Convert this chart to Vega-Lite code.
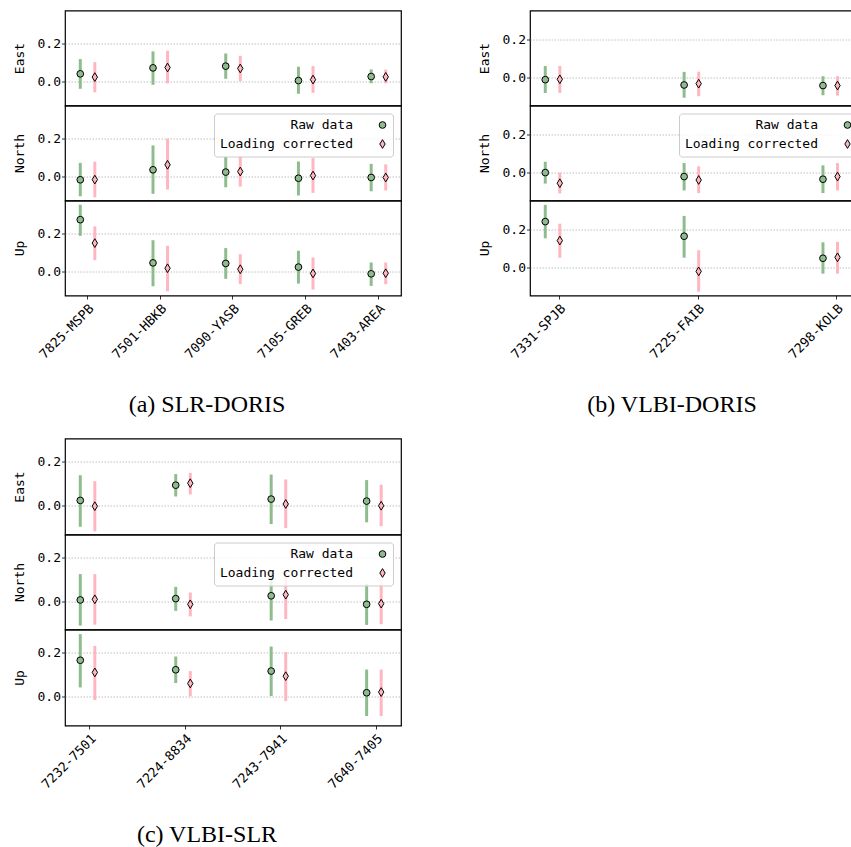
{
  "$schema": "https://vega.github.io/schema/vega-lite/v6.json",
  "padding": {"left": 12, "top": 9.5, "right": 5, "bottom": 5},
  "background": "white",
  "config": {
    "view": {"stroke": "black", "strokeWidth": 1.2},
    "axis": {"labelFont": "DejaVu Sans Mono", "labelFontSize": 13, "labelColor": "black", "titleFont": "DejaVu Sans Mono", "titleFontSize": 13, "titleFontWeight": "normal", "titleColor": "black", "domain": false, "tickColor": "black", "tickSize": 3.5, "tickWidth": 0.8, "labelPadding": 1, "gridColor": "#b0b0b0", "gridDash": [1.5, 1.5], "gridWidth": 0.8},
    "axisY": {"titlePadding": 11, "grid": true, "values": [0, 0.2], "format": ".1f"},
    "axisX": {"grid": false, "labelAngle": -45, "labelAlign": "right", "labelBaseline": "top", "labelPadding": 3, "title": null},
    "title": {"font": "Liberation Serif", "fontSize": 24, "fontWeight": "normal", "color": "black", "orient": "bottom", "anchor": "middle", "frame": "bounds", "offset": 31}
  },
  "datasets": {
    "a": [
      {"comp": "East", "station": "7825-MSPB", "series": "Raw data", "v": 0.040, "lo": -0.038, "hi": 0.117},
      {"comp": "East", "station": "7825-MSPB", "series": "Loading corrected", "v": 0.023, "lo": -0.056, "hi": 0.101},
      {"comp": "East", "station": "7501-HBKB", "series": "Raw data", "v": 0.071, "lo": -0.017, "hi": 0.157},
      {"comp": "East", "station": "7501-HBKB", "series": "Loading corrected", "v": 0.073, "lo": -0.010, "hi": 0.160},
      {"comp": "East", "station": "7090-YASB", "series": "Raw data", "v": 0.080, "lo": 0.014, "hi": 0.146},
      {"comp": "East", "station": "7090-YASB", "series": "Loading corrected", "v": 0.068, "lo": 0.002, "hi": 0.134},
      {"comp": "East", "station": "7105-GREB", "series": "Raw data", "v": 0.005, "lo": -0.064, "hi": 0.077},
      {"comp": "East", "station": "7105-GREB", "series": "Loading corrected", "v": 0.010, "lo": -0.059, "hi": 0.080},
      {"comp": "East", "station": "7403-AREA", "series": "Raw data", "v": 0.026, "lo": -0.009, "hi": 0.063},
      {"comp": "East", "station": "7403-AREA", "series": "Loading corrected", "v": 0.024, "lo": -0.009, "hi": 0.062},
      {"comp": "North", "station": "7825-MSPB", "series": "Raw data", "v": -0.017, "lo": -0.103, "hi": 0.071},
      {"comp": "North", "station": "7825-MSPB", "series": "Loading corrected", "v": -0.016, "lo": -0.108, "hi": 0.077},
      {"comp": "North", "station": "7501-HBKB", "series": "Raw data", "v": 0.035, "lo": -0.090, "hi": 0.162},
      {"comp": "North", "station": "7501-HBKB", "series": "Loading corrected", "v": 0.061, "lo": -0.068, "hi": 0.197},
      {"comp": "North", "station": "7090-YASB", "series": "Raw data", "v": 0.023, "lo": -0.056, "hi": 0.102},
      {"comp": "North", "station": "7090-YASB", "series": "Loading corrected", "v": 0.026, "lo": -0.052, "hi": 0.104},
      {"comp": "North", "station": "7105-GREB", "series": "Raw data", "v": -0.009, "lo": -0.099, "hi": 0.078},
      {"comp": "North", "station": "7105-GREB", "series": "Loading corrected", "v": 0.005, "lo": -0.085, "hi": 0.096},
      {"comp": "North", "station": "7403-AREA", "series": "Raw data", "v": -0.005, "lo": -0.077, "hi": 0.066},
      {"comp": "North", "station": "7403-AREA", "series": "Loading corrected", "v": -0.005, "lo": -0.073, "hi": 0.063},
      {"comp": "Up", "station": "7825-MSPB", "series": "Raw data", "v": 0.270, "lo": 0.186, "hi": 0.348},
      {"comp": "Up", "station": "7825-MSPB", "series": "Loading corrected", "v": 0.148, "lo": 0.059, "hi": 0.235},
      {"comp": "Up", "station": "7501-HBKB", "series": "Raw data", "v": 0.045, "lo": -0.077, "hi": 0.163},
      {"comp": "Up", "station": "7501-HBKB", "series": "Loading corrected", "v": 0.017, "lo": -0.103, "hi": 0.134},
      {"comp": "Up", "station": "7090-YASB", "series": "Raw data", "v": 0.042, "lo": -0.038, "hi": 0.122},
      {"comp": "Up", "station": "7090-YASB", "series": "Loading corrected", "v": 0.012, "lo": -0.066, "hi": 0.090},
      {"comp": "Up", "station": "7105-GREB", "series": "Raw data", "v": 0.023, "lo": -0.063, "hi": 0.108},
      {"comp": "Up", "station": "7105-GREB", "series": "Loading corrected", "v": -0.010, "lo": -0.094, "hi": 0.073},
      {"comp": "Up", "station": "7403-AREA", "series": "Raw data", "v": -0.012, "lo": -0.075, "hi": 0.047},
      {"comp": "Up", "station": "7403-AREA", "series": "Loading corrected", "v": -0.009, "lo": -0.066, "hi": 0.047}
    ],
    "b": [
      {"comp": "East", "station": "7331-SPJB", "series": "Raw data", "v": -0.009, "lo": -0.079, "hi": 0.063},
      {"comp": "East", "station": "7331-SPJB", "series": "Loading corrected", "v": -0.007, "lo": -0.079, "hi": 0.063},
      {"comp": "East", "station": "7225-FAIB", "series": "Raw data", "v": -0.037, "lo": -0.104, "hi": 0.032},
      {"comp": "East", "station": "7225-FAIB", "series": "Loading corrected", "v": -0.030, "lo": -0.096, "hi": 0.033},
      {"comp": "East", "station": "7298-KOLB", "series": "Raw data", "v": -0.040, "lo": -0.091, "hi": 0.009},
      {"comp": "East", "station": "7298-KOLB", "series": "Loading corrected", "v": -0.040, "lo": -0.093, "hi": 0.009},
      {"comp": "North", "station": "7331-SPJB", "series": "Raw data", "v": 0.002, "lo": -0.056, "hi": 0.059},
      {"comp": "North", "station": "7331-SPJB", "series": "Loading corrected", "v": -0.054, "lo": -0.108, "hi": 0.002},
      {"comp": "North", "station": "7225-FAIB", "series": "Raw data", "v": -0.019, "lo": -0.092, "hi": 0.052},
      {"comp": "North", "station": "7225-FAIB", "series": "Loading corrected", "v": -0.037, "lo": -0.106, "hi": 0.035},
      {"comp": "North", "station": "7298-KOLB", "series": "Raw data", "v": -0.033, "lo": -0.106, "hi": 0.040},
      {"comp": "North", "station": "7298-KOLB", "series": "Loading corrected", "v": -0.019, "lo": -0.092, "hi": 0.052},
      {"comp": "Up", "station": "7331-SPJB", "series": "Raw data", "v": 0.244, "lo": 0.156, "hi": 0.332},
      {"comp": "Up", "station": "7331-SPJB", "series": "Loading corrected", "v": 0.144, "lo": 0.054, "hi": 0.233},
      {"comp": "Up", "station": "7225-FAIB", "series": "Raw data", "v": 0.167, "lo": 0.054, "hi": 0.274},
      {"comp": "Up", "station": "7225-FAIB", "series": "Loading corrected", "v": -0.018, "lo": -0.125, "hi": 0.093},
      {"comp": "Up", "station": "7298-KOLB", "series": "Raw data", "v": 0.051, "lo": -0.030, "hi": 0.135},
      {"comp": "Up", "station": "7298-KOLB", "series": "Loading corrected", "v": 0.056, "lo": -0.030, "hi": 0.137}
    ],
    "c": [
      {"comp": "East", "station": "7232-7501", "series": "Raw data", "v": 0.024, "lo": -0.095, "hi": 0.138},
      {"comp": "East", "station": "7232-7501", "series": "Loading corrected", "v": -0.002, "lo": -0.116, "hi": 0.111},
      {"comp": "East", "station": "7224-8834", "series": "Raw data", "v": 0.093, "lo": 0.042, "hi": 0.143},
      {"comp": "East", "station": "7224-8834", "series": "Loading corrected", "v": 0.102, "lo": 0.051, "hi": 0.149},
      {"comp": "East", "station": "7243-7941", "series": "Raw data", "v": 0.030, "lo": -0.083, "hi": 0.141},
      {"comp": "East", "station": "7243-7941", "series": "Loading corrected", "v": 0.008, "lo": -0.101, "hi": 0.119},
      {"comp": "East", "station": "7640-7405", "series": "Raw data", "v": 0.021, "lo": -0.075, "hi": 0.116},
      {"comp": "East", "station": "7640-7405", "series": "Loading corrected", "v": 0.000, "lo": -0.092, "hi": 0.095},
      {"comp": "North", "station": "7232-7501", "series": "Raw data", "v": 0.005, "lo": -0.112, "hi": 0.123},
      {"comp": "North", "station": "7232-7501", "series": "Loading corrected", "v": 0.008, "lo": -0.108, "hi": 0.123},
      {"comp": "North", "station": "7224-8834", "series": "Raw data", "v": 0.011, "lo": -0.045, "hi": 0.065},
      {"comp": "North", "station": "7224-8834", "series": "Loading corrected", "v": -0.015, "lo": -0.070, "hi": 0.039},
      {"comp": "North", "station": "7243-7941", "series": "Raw data", "v": 0.024, "lo": -0.089, "hi": 0.137},
      {"comp": "North", "station": "7243-7941", "series": "Loading corrected", "v": 0.029, "lo": -0.082, "hi": 0.140},
      {"comp": "North", "station": "7640-7405", "series": "Raw data", "v": -0.015, "lo": -0.109, "hi": 0.079},
      {"comp": "North", "station": "7640-7405", "series": "Loading corrected", "v": -0.012, "lo": -0.106, "hi": 0.082},
      {"comp": "Up", "station": "7232-7501", "series": "Raw data", "v": 0.165, "lo": 0.042, "hi": 0.283},
      {"comp": "Up", "station": "7232-7501", "series": "Loading corrected", "v": 0.110, "lo": -0.015, "hi": 0.230},
      {"comp": "Up", "station": "7224-8834", "series": "Raw data", "v": 0.122, "lo": 0.062, "hi": 0.182},
      {"comp": "Up", "station": "7224-8834", "series": "Loading corrected", "v": 0.060, "lo": 0.002, "hi": 0.116},
      {"comp": "Up", "station": "7243-7941", "series": "Raw data", "v": 0.116, "lo": 0.003, "hi": 0.227},
      {"comp": "Up", "station": "7243-7941", "series": "Loading corrected", "v": 0.093, "lo": -0.020, "hi": 0.202},
      {"comp": "Up", "station": "7640-7405", "series": "Raw data", "v": 0.018, "lo": -0.087, "hi": 0.123},
      {"comp": "Up", "station": "7640-7405", "series": "Loading corrected", "v": 0.021, "lo": -0.087, "hi": 0.123}
    ]
  },
  "resolve": {"scale": {"color": "independent", "shape": "independent", "stroke": "independent"}, "legend": {"color": "independent", "shape": "independent", "stroke": "independent"}},
  "spacing": 20,
  "vconcat": [
    {
      "spacing": 75,
      "resolve": {"scale": {"color": "independent", "shape": "independent", "stroke": "independent"}, "legend": {"color": "independent", "shape": "independent", "stroke": "independent"}},
      "hconcat": [
        {
          "title": {"text": "(a) SLR-DORIS"},
          "spacing": 0,
          "bounds": "flush",
          "resolve": {"scale": {"color": "independent", "shape": "independent", "stroke": "independent"}, "legend": {"color": "independent", "shape": "independent", "stroke": "independent"}},
          "vconcat": [
            {
              "width": 336, "height": 95,
              "data": {"name": "a"},
              "transform": [{"filter": "datum.comp === 'East'"}],
              "encoding": {
                "x": {"field": "station", "type": "nominal", "scale": {"type": "band", "domain": ["7825-MSPB", "7501-HBKB", "7090-YASB", "7105-GREB", "7403-AREA"], "paddingInner": 0.38, "paddingOuter": 0}, "axis": null},
                "xOffset": {"field": "series", "type": "nominal", "scale": {"type": "band", "domain": ["Raw data", "Loading corrected"], "paddingInner": 0, "paddingOuter": 0.55}}
              },
              "layer": [
                {"mark": {"type": "rule", "strokeWidth": 3}, "encoding": {"y": {"field": "lo", "type": "quantitative", "scale": {"domain": [-0.125, 0.37], "nice": false, "zero": false}, "axis": {"title": "East"}}, "y2": {"field": "hi"}, "stroke": {"field": "series", "type": "nominal", "scale": {"domain": ["Loading corrected", "Raw data"], "range": ["#ffb6c1", "#8fbc8f"]}, "legend": null}}},
                {"mark": {"type": "point", "filled": true, "stroke": "black", "strokeWidth": 1, "size": 45, "opacity": 1}, "encoding": {"y": {"field": "v", "type": "quantitative", "axis": {"title": "East"}}, "color": {"field": "series", "type": "nominal", "scale": {"domain": ["Raw data", "Loading corrected"], "range": ["#8fbc8f", "#ffb6c1"]}, "legend": null}, "shape": {"field": "series", "type": "nominal", "scale": {"domain": ["Raw data", "Loading corrected"], "range": ["circle", "M0,-1.3L0.8,0L0,1.3L-0.8,0Z"]}, "legend": null}}}
              ]
            },
            {
              "width": 336, "height": 95,
              "data": {"name": "a"},
              "transform": [{"filter": "datum.comp === 'North'"}],
              "encoding": {
                "x": {"field": "station", "type": "nominal", "scale": {"type": "band", "domain": ["7825-MSPB", "7501-HBKB", "7090-YASB", "7105-GREB", "7403-AREA"], "paddingInner": 0.38, "paddingOuter": 0}, "axis": null},
                "xOffset": {"field": "series", "type": "nominal", "scale": {"type": "band", "domain": ["Raw data", "Loading corrected"], "paddingInner": 0, "paddingOuter": 0.55}}
              },
              "layer": [
                {"mark": {"type": "rule", "strokeWidth": 3}, "encoding": {"y": {"field": "lo", "type": "quantitative", "scale": {"domain": [-0.125, 0.37], "nice": false, "zero": false}, "axis": {"title": "North"}}, "y2": {"field": "hi"}, "stroke": {"field": "series", "type": "nominal", "scale": {"domain": ["Loading corrected", "Raw data"], "range": ["#ffb6c1", "#8fbc8f"]}, "legend": null}}},
                {"mark": {"type": "point", "filled": true, "stroke": "black", "strokeWidth": 1, "size": 45, "opacity": 1}, "encoding": {"y": {"field": "v", "type": "quantitative", "axis": {"title": "North"}}, "color": {"field": "series", "type": "nominal", "scale": {"domain": ["Raw data", "Loading corrected"], "range": ["#8fbc8f", "#ffb6c1"]}, "legend": {"title": null, "orient": "top-right", "offset": 8, "fillColor": "rgba(255,255,255,0.8)", "strokeColor": "#cccccc", "cornerRadius": 3, "padding": 5, "labelFont": "DejaVu Sans Mono", "labelFontSize": 13, "labelColor": "black", "labelAlign": "right", "labelOffset": -36, "symbolOffset": 157, "rowPadding": 5, "symbolSize": 45, "symbolStrokeColor": "black", "symbolStrokeWidth": 1}}, "shape": {"field": "series", "type": "nominal", "scale": {"domain": ["Raw data", "Loading corrected"], "range": ["circle", "M0,-1.3L0.8,0L0,1.3L-0.8,0Z"]}, "legend": {"title": null}}}}
              ]
            },
            {
              "width": 336, "height": 95,
              "data": {"name": "a"},
              "transform": [{"filter": "datum.comp === 'Up'"}],
              "encoding": {
                "x": {"field": "station", "type": "nominal", "scale": {"type": "band", "domain": ["7825-MSPB", "7501-HBKB", "7090-YASB", "7105-GREB", "7403-AREA"], "paddingInner": 0.38, "paddingOuter": 0}, "axis": {}},
                "xOffset": {"field": "series", "type": "nominal", "scale": {"type": "band", "domain": ["Raw data", "Loading corrected"], "paddingInner": 0, "paddingOuter": 0.55}}
              },
              "layer": [
                {"mark": {"type": "rule", "strokeWidth": 3}, "encoding": {"y": {"field": "lo", "type": "quantitative", "scale": {"domain": [-0.125, 0.37], "nice": false, "zero": false}, "axis": {"title": "Up"}}, "y2": {"field": "hi"}, "stroke": {"field": "series", "type": "nominal", "scale": {"domain": ["Loading corrected", "Raw data"], "range": ["#ffb6c1", "#8fbc8f"]}, "legend": null}}},
                {"mark": {"type": "point", "filled": true, "stroke": "black", "strokeWidth": 1, "size": 45, "opacity": 1}, "encoding": {"y": {"field": "v", "type": "quantitative", "axis": {"title": "Up"}}, "color": {"field": "series", "type": "nominal", "scale": {"domain": ["Raw data", "Loading corrected"], "range": ["#8fbc8f", "#ffb6c1"]}, "legend": null}, "shape": {"field": "series", "type": "nominal", "scale": {"domain": ["Raw data", "Loading corrected"], "range": ["circle", "M0,-1.3L0.8,0L0,1.3L-0.8,0Z"]}, "legend": null}}}
              ]
            }
          ]
        },
        {
          "title": {"text": "(b) VLBI-DORIS"},
          "spacing": 0,
          "bounds": "flush",
          "resolve": {"scale": {"color": "independent", "shape": "independent", "stroke": "independent"}, "legend": {"color": "independent", "shape": "independent", "stroke": "independent"}},
          "vconcat": [
            {
              "width": 336, "height": 95,
              "data": {"name": "b"},
              "transform": [{"filter": "datum.comp === 'East'"}],
              "encoding": {
                "x": {"field": "station", "type": "nominal", "scale": {"type": "band", "domain": ["7331-SPJB", "7225-FAIB", "7298-KOLB"], "paddingInner": 0.58, "paddingOuter": 0}, "axis": null},
                "xOffset": {"field": "series", "type": "nominal", "scale": {"type": "band", "domain": ["Raw data", "Loading corrected"], "paddingInner": 0, "paddingOuter": 0.05}}
              },
              "layer": [
                {"mark": {"type": "rule", "strokeWidth": 3}, "encoding": {"y": {"field": "lo", "type": "quantitative", "scale": {"domain": [-0.145, 0.355], "nice": false, "zero": false}, "axis": {"title": "East"}}, "y2": {"field": "hi"}, "stroke": {"field": "series", "type": "nominal", "scale": {"domain": ["Loading corrected", "Raw data"], "range": ["#ffb6c1", "#8fbc8f"]}, "legend": null}}},
                {"mark": {"type": "point", "filled": true, "stroke": "black", "strokeWidth": 1, "size": 45, "opacity": 1}, "encoding": {"y": {"field": "v", "type": "quantitative", "axis": {"title": "East"}}, "color": {"field": "series", "type": "nominal", "scale": {"domain": ["Raw data", "Loading corrected"], "range": ["#8fbc8f", "#ffb6c1"]}, "legend": null}, "shape": {"field": "series", "type": "nominal", "scale": {"domain": ["Raw data", "Loading corrected"], "range": ["circle", "M0,-1.3L0.8,0L0,1.3L-0.8,0Z"]}, "legend": null}}}
              ]
            },
            {
              "width": 336, "height": 95,
              "data": {"name": "b"},
              "transform": [{"filter": "datum.comp === 'North'"}],
              "encoding": {
                "x": {"field": "station", "type": "nominal", "scale": {"type": "band", "domain": ["7331-SPJB", "7225-FAIB", "7298-KOLB"], "paddingInner": 0.58, "paddingOuter": 0}, "axis": null},
                "xOffset": {"field": "series", "type": "nominal", "scale": {"type": "band", "domain": ["Raw data", "Loading corrected"], "paddingInner": 0, "paddingOuter": 0.05}}
              },
              "layer": [
                {"mark": {"type": "rule", "strokeWidth": 3}, "encoding": {"y": {"field": "lo", "type": "quantitative", "scale": {"domain": [-0.145, 0.355], "nice": false, "zero": false}, "axis": {"title": "North"}}, "y2": {"field": "hi"}, "stroke": {"field": "series", "type": "nominal", "scale": {"domain": ["Loading corrected", "Raw data"], "range": ["#ffb6c1", "#8fbc8f"]}, "legend": null}}},
                {"mark": {"type": "point", "filled": true, "stroke": "black", "strokeWidth": 1, "size": 45, "opacity": 1}, "encoding": {"y": {"field": "v", "type": "quantitative", "axis": {"title": "North"}}, "color": {"field": "series", "type": "nominal", "scale": {"domain": ["Raw data", "Loading corrected"], "range": ["#8fbc8f", "#ffb6c1"]}, "legend": {"title": null, "orient": "top-right", "offset": 8, "fillColor": "rgba(255,255,255,0.8)", "strokeColor": "#cccccc", "cornerRadius": 3, "padding": 5, "labelFont": "DejaVu Sans Mono", "labelFontSize": 13, "labelColor": "black", "labelAlign": "right", "labelOffset": -36, "symbolOffset": 157, "rowPadding": 5, "symbolSize": 45, "symbolStrokeColor": "black", "symbolStrokeWidth": 1}}, "shape": {"field": "series", "type": "nominal", "scale": {"domain": ["Raw data", "Loading corrected"], "range": ["circle", "M0,-1.3L0.8,0L0,1.3L-0.8,0Z"]}, "legend": {"title": null}}}}
              ]
            },
            {
              "width": 336, "height": 95,
              "data": {"name": "b"},
              "transform": [{"filter": "datum.comp === 'Up'"}],
              "encoding": {
                "x": {"field": "station", "type": "nominal", "scale": {"type": "band", "domain": ["7331-SPJB", "7225-FAIB", "7298-KOLB"], "paddingInner": 0.58, "paddingOuter": 0}, "axis": {}},
                "xOffset": {"field": "series", "type": "nominal", "scale": {"type": "band", "domain": ["Raw data", "Loading corrected"], "paddingInner": 0, "paddingOuter": 0.05}}
              },
              "layer": [
                {"mark": {"type": "rule", "strokeWidth": 3}, "encoding": {"y": {"field": "lo", "type": "quantitative", "scale": {"domain": [-0.145, 0.355], "nice": false, "zero": false}, "axis": {"title": "Up"}}, "y2": {"field": "hi"}, "stroke": {"field": "series", "type": "nominal", "scale": {"domain": ["Loading corrected", "Raw data"], "range": ["#ffb6c1", "#8fbc8f"]}, "legend": null}}},
                {"mark": {"type": "point", "filled": true, "stroke": "black", "strokeWidth": 1, "size": 45, "opacity": 1}, "encoding": {"y": {"field": "v", "type": "quantitative", "axis": {"title": "Up"}}, "color": {"field": "series", "type": "nominal", "scale": {"domain": ["Raw data", "Loading corrected"], "range": ["#8fbc8f", "#ffb6c1"]}, "legend": null}, "shape": {"field": "series", "type": "nominal", "scale": {"domain": ["Raw data", "Loading corrected"], "range": ["circle", "M0,-1.3L0.8,0L0,1.3L-0.8,0Z"]}, "legend": null}}}
              ]
            }
          ]
        }
      ]
    },
    {
      "title": {"text": "(c) VLBI-SLR"},
      "spacing": 0,
      "bounds": "flush",
      "resolve": {"scale": {"color": "independent", "shape": "independent", "stroke": "independent"}, "legend": {"color": "independent", "shape": "independent", "stroke": "independent"}},
      "vconcat": [
        {
          "width": 336, "height": 96,
          "data": {"name": "c"},
          "transform": [{"filter": "datum.comp === 'East'"}],
          "encoding": {
            "x": {"field": "station", "type": "nominal", "scale": {"type": "band", "domain": ["7232-7501", "7224-8834", "7243-7941", "7640-7405"], "paddingInner": 0.48, "paddingOuter": 0}, "axis": null},
            "xOffset": {"field": "series", "type": "nominal", "scale": {"type": "band", "domain": ["Raw data", "Loading corrected"], "paddingInner": 0, "paddingOuter": 0.3}}
          },
          "layer": [
            {"mark": {"type": "rule", "strokeWidth": 3}, "encoding": {"y": {"field": "lo", "type": "quantitative", "scale": {"domain": [-0.13, 0.304], "nice": false, "zero": false}, "axis": {"title": "East"}}, "y2": {"field": "hi"}, "stroke": {"field": "series", "type": "nominal", "scale": {"domain": ["Loading corrected", "Raw data"], "range": ["#ffb6c1", "#8fbc8f"]}, "legend": null}}},
            {"mark": {"type": "point", "filled": true, "stroke": "black", "strokeWidth": 1, "size": 45, "opacity": 1}, "encoding": {"y": {"field": "v", "type": "quantitative", "axis": {"title": "East"}}, "color": {"field": "series", "type": "nominal", "scale": {"domain": ["Raw data", "Loading corrected"], "range": ["#8fbc8f", "#ffb6c1"]}, "legend": null}, "shape": {"field": "series", "type": "nominal", "scale": {"domain": ["Raw data", "Loading corrected"], "range": ["circle", "M0,-1.3L0.8,0L0,1.3L-0.8,0Z"]}, "legend": null}}}
          ]
        },
        {
          "width": 336, "height": 95,
          "data": {"name": "c"},
          "transform": [{"filter": "datum.comp === 'North'"}],
          "encoding": {
            "x": {"field": "station", "type": "nominal", "scale": {"type": "band", "domain": ["7232-7501", "7224-8834", "7243-7941", "7640-7405"], "paddingInner": 0.48, "paddingOuter": 0}, "axis": null},
            "xOffset": {"field": "series", "type": "nominal", "scale": {"type": "band", "domain": ["Raw data", "Loading corrected"], "paddingInner": 0, "paddingOuter": 0.3}}
          },
          "layer": [
            {"mark": {"type": "rule", "strokeWidth": 3}, "encoding": {"y": {"field": "lo", "type": "quantitative", "scale": {"domain": [-0.13, 0.304], "nice": false, "zero": false}, "axis": {"title": "North"}}, "y2": {"field": "hi"}, "stroke": {"field": "series", "type": "nominal", "scale": {"domain": ["Loading corrected", "Raw data"], "range": ["#ffb6c1", "#8fbc8f"]}, "legend": null}}},
            {"mark": {"type": "point", "filled": true, "stroke": "black", "strokeWidth": 1, "size": 45, "opacity": 1}, "encoding": {"y": {"field": "v", "type": "quantitative", "axis": {"title": "North"}}, "color": {"field": "series", "type": "nominal", "scale": {"domain": ["Raw data", "Loading corrected"], "range": ["#8fbc8f", "#ffb6c1"]}, "legend": {"title": null, "orient": "top-right", "offset": 8, "fillColor": "rgba(255,255,255,0.8)", "strokeColor": "#cccccc", "cornerRadius": 3, "padding": 5, "labelFont": "DejaVu Sans Mono", "labelFontSize": 13, "labelColor": "black", "labelAlign": "right", "labelOffset": -36, "symbolOffset": 157, "rowPadding": 5, "symbolSize": 45, "symbolStrokeColor": "black", "symbolStrokeWidth": 1}}, "shape": {"field": "series", "type": "nominal", "scale": {"domain": ["Raw data", "Loading corrected"], "range": ["circle", "M0,-1.3L0.8,0L0,1.3L-0.8,0Z"]}, "legend": {"title": null}}}}
          ]
        },
        {
          "width": 336, "height": 96,
          "data": {"name": "c"},
          "transform": [{"filter": "datum.comp === 'Up'"}],
          "encoding": {
            "x": {"field": "station", "type": "nominal", "scale": {"type": "band", "domain": ["7232-7501", "7224-8834", "7243-7941", "7640-7405"], "paddingInner": 0.48, "paddingOuter": 0}, "axis": {}},
            "xOffset": {"field": "series", "type": "nominal", "scale": {"type": "band", "domain": ["Raw data", "Loading corrected"], "paddingInner": 0, "paddingOuter": 0.3}}
          },
          "layer": [
            {"mark": {"type": "rule", "strokeWidth": 3}, "encoding": {"y": {"field": "lo", "type": "quantitative", "scale": {"domain": [-0.13, 0.304], "nice": false, "zero": false}, "axis": {"title": "Up"}}, "y2": {"field": "hi"}, "stroke": {"field": "series", "type": "nominal", "scale": {"domain": ["Loading corrected", "Raw data"], "range": ["#ffb6c1", "#8fbc8f"]}, "legend": null}}},
            {"mark": {"type": "point", "filled": true, "stroke": "black", "strokeWidth": 1, "size": 45, "opacity": 1}, "encoding": {"y": {"field": "v", "type": "quantitative", "axis": {"title": "Up"}}, "color": {"field": "series", "type": "nominal", "scale": {"domain": ["Raw data", "Loading corrected"], "range": ["#8fbc8f", "#ffb6c1"]}, "legend": null}, "shape": {"field": "series", "type": "nominal", "scale": {"domain": ["Raw data", "Loading corrected"], "range": ["circle", "M0,-1.3L0.8,0L0,1.3L-0.8,0Z"]}, "legend": null}}}
          ]
        }
      ]
    }
  ]
}
